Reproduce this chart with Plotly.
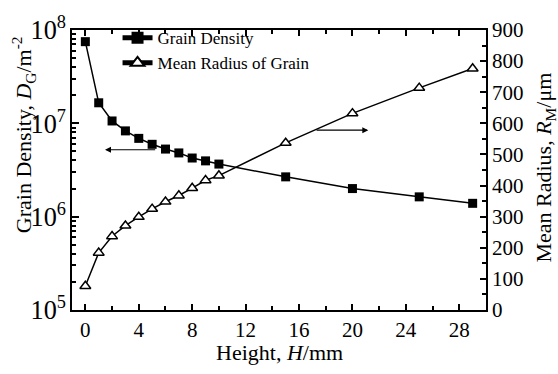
import plotly.graph_objects as go

height_mm = [0, 1, 2, 3, 4, 5, 6, 7, 8, 9, 10, 15, 20, 25, 29]
grain_density = [7.5e7, 1.66e7, 1.06e7, 8.3e6, 6.9e6, 5.96e6, 5.3e6, 4.82e6,
                 4.25e6, 3.96e6, 3.66e6, 2.67e6, 2.0e6, 1.63e6, 1.39e6]
mean_radius = [77, 184, 237, 271, 299, 325, 348, 368, 392, 417, 432, 537, 632, 714, 776]

x_ticks = [0, 4, 8, 12, 16, 20, 24, 28]

FONT = "Liberation Serif"

fig = go.Figure()
fig.add_trace(go.Scatter(
    x=height_mm, y=grain_density, name="Grain Density", mode="lines+markers",
    line=dict(color="black", width=1.5),
    marker=dict(symbol="square", size=9, color="black"),
    yaxis="y"))
fig.add_trace(go.Scatter(
    x=height_mm, y=mean_radius, name="Mean Radius of Grain", mode="lines+markers",
    line=dict(color="black", width=1.5),
    marker=dict(symbol="triangle-up", size=9.5, color="white",
                line=dict(color="black", width=1.5)),
    yaxis="y2"))

axis_common = dict(showline=True, linecolor="black", linewidth=1.5,
                   ticks="inside", tickcolor="black", tickwidth=1.5,
                   showgrid=False, zeroline=False,
                   tickfont=dict(family=FONT, size=21, color="black"))

fig.update_layout(
    width=558, height=374,
    margin=dict(l=72, r=72, t=17, b=64),
    paper_bgcolor="white", plot_bgcolor="white",
    font=dict(family=FONT, color="black"),
    showlegend=True,
    legend=dict(x=0.11, y=1.035, xanchor="left", yanchor="top",
                bgcolor="rgba(0,0,0,0)", font=dict(family=FONT, size=17),
                itemsizing="constant", tracegroupgap=0),
    xaxis=dict(range=[-1, 30], tickvals=x_ticks, ticklen=6, mirror="ticks",
               minor=dict(dtick=2, ticks="inside", ticklen=4, tickcolor="black", tickwidth=1.5),
               **axis_common),
    yaxis=dict(type="log", range=[5, 8], dtick=1, exponentformat="power", ticklen=7,
               minor=dict(dtick="D1", ticks="inside", ticklen=4, tickcolor="black", tickwidth=1.5),
               **axis_common),
    yaxis2=dict(overlaying="y", side="right", range=[0, 900], dtick=100, ticklen=6,
                minor=dict(dtick=50, ticks="inside", ticklen=4, tickcolor="black", tickwidth=1.5),
                **axis_common),
    annotations=[
        dict(text="Height, <i>H</i>/mm", xref="paper", yref="paper", x=0.5, y=-0.152,
             xanchor="center", yanchor="middle", showarrow=False,
             font=dict(family=FONT, size=22)),
        dict(text="Grain Density, <i>D</i><sub>G</sub>/m<sup>-2</sup>", xref="paper", yref="paper",
             x=-0.118, y=0.625, xanchor="center", yanchor="middle", textangle=-90,
             showarrow=False, font=dict(family=FONT, size=22)),
        dict(text="Mean Radius, <i>R</i><sub>M</sub>/μm", xref="paper", yref="paper",
             x=1.142, y=0.508, xanchor="center", yanchor="middle", textangle=-90,
             showarrow=False, font=dict(family=FONT, size=22)),
        dict(x=1.47, y=6.717, ax=5.34, ay=6.717, xref="x", yref="y", axref="x", ayref="y",
             showarrow=True, arrowhead=2, arrowsize=1, arrowwidth=1.2, arrowcolor="black", text=""),
        dict(x=21.19, y=578, ax=17.2, ay=578, xref="x", yref="y2", axref="x", ayref="y2",
             showarrow=True, arrowhead=2, arrowsize=1, arrowwidth=1.2, arrowcolor="black", text=""),
    ],
)

fig.write_html("out.html")
